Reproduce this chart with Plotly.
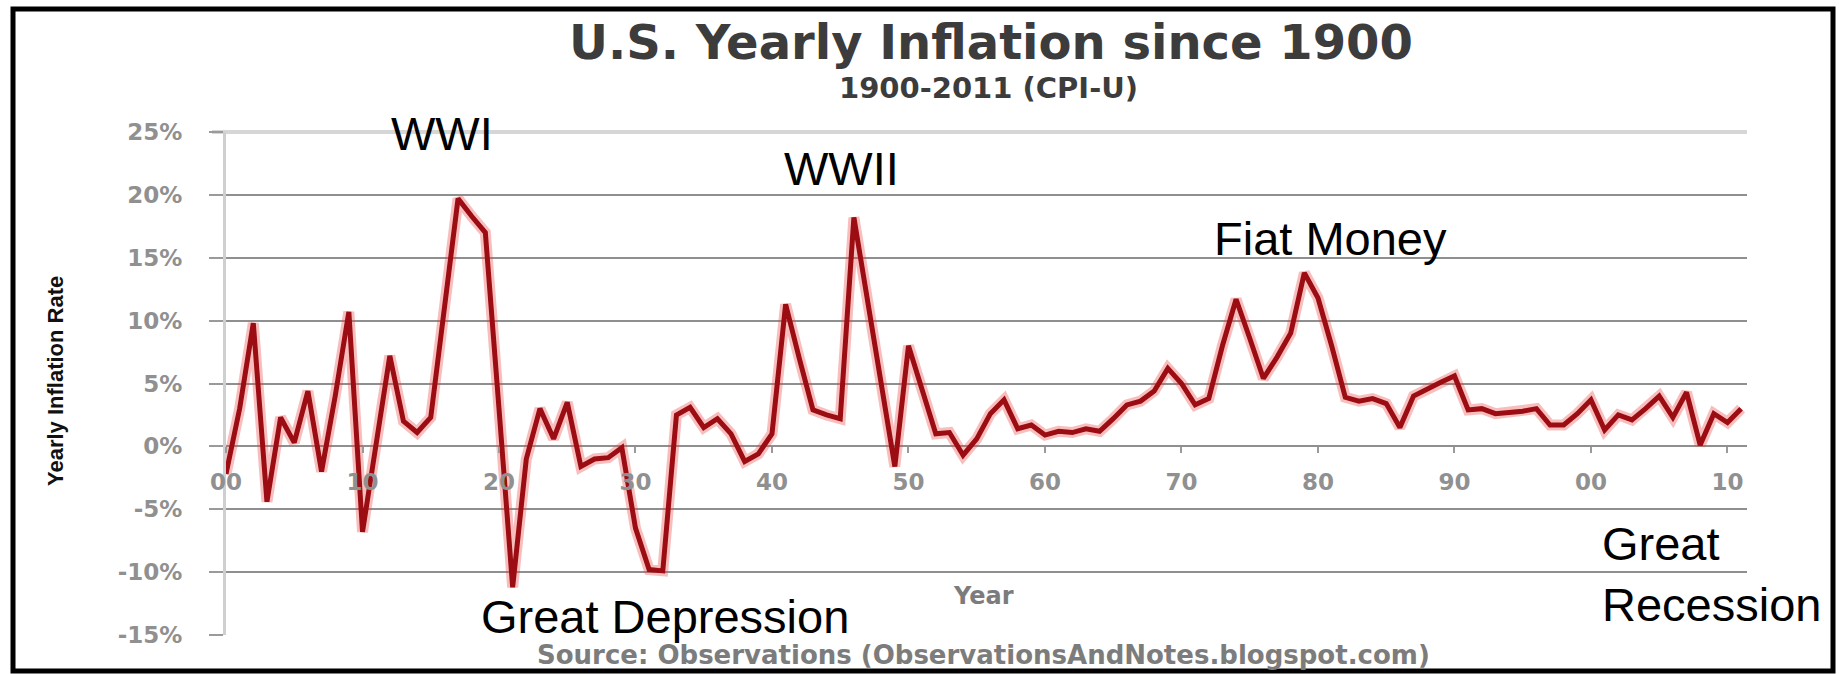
import plotly.graph_objects as go

# Yearly CPI-U inflation, percent
years = list(range(1900, 2012))
inflation = [
    -2.2, 3.0, 9.8, -4.4, 2.3, 0.3, 4.4, -2.0, 4.0, 10.7,      # 1900s
    -6.8, 0.0, 7.2, 2.0, 1.1, 2.3, 11.0, 19.7, 18.3, 17.0,     # 1910s
    3.0, -11.2, -1.0, 3.0, 0.6, 3.5, -1.6, -1.0, -0.9, -0.1,   # 1920s
    -6.5, -9.8, -9.9, 2.5, 3.1, 1.5, 2.2, 1.0, -1.2, -0.6,     # 1930s
    1.0, 11.3, 7.0, 2.9, 2.5, 2.2, 18.2, 11.6, 5.0, -1.6,      # 1940s
    8.0, 4.5, 1.0, 1.1, -0.7, 0.6, 2.6, 3.7, 1.4, 1.7,         # 1950s
    0.9, 1.2, 1.1, 1.4, 1.2, 2.2, 3.3, 3.6, 4.4, 6.2,          # 1960s
    5.0, 3.3, 3.8, 8.0, 11.7, 8.6, 5.4, 7.1, 9.0, 13.8,        # 1970s
    11.8, 8.0, 3.9, 3.6, 3.8, 3.4, 1.5, 4.0, 4.6, 5.1,         # 1980s
    5.6, 2.9, 3.0, 2.6, 2.7, 2.8, 3.0, 1.7, 1.7, 2.6,          # 1990s
    3.7, 1.3, 2.5, 2.1, 3.0, 4.0, 2.3, 4.3, 0.1, 2.6,          # 2000s
    1.9, 3.0,                                                  # 2010s
]

y_ticks = [-15, -10, -5, 0, 5, 10, 15, 20, 25]
y_tick_text = ["-15%", "-10%", "-5%", "0%", "5%", "10%", "15%", "20%", "25%"]
x_ticks = [1900, 1910, 1920, 1930, 1940, 1950, 1960, 1970, 1980, 1990, 2000, 2010]
x_tick_text = ["00", "10", "20", "30", "40", "50", "60", "70", "80", "90", "00", "10"]

events = ["WWI", "WWII", "Fiat Money", "Great Depression", "Great<br>Recession"]

# page and plot-area geometry (pixels)
W, H = 1839, 674
L, R, T, B = 226, 1747, 132, 635


def px(x):
    return (x - L) / (R - L)


def py(y):
    return (B - y) / (B - T)


fig = go.Figure()

# soft red glow under the series line
fig.add_trace(go.Scatter(
    x=years, y=inflation, mode="lines",
    line=dict(color="rgba(235,70,70,0.35)", width=11),
    hoverinfo="skip", showlegend=False,
))
fig.add_trace(go.Scatter(
    x=years, y=inflation, mode="lines",
    line=dict(color="#9b0d12", width=5),
    name="Inflation", showlegend=False,
))

tick_font = dict(family="DejaVu Sans", size=23, color="#909090", weight="bold")

fig.update_layout(
    width=W, height=H, autosize=False,
    margin=dict(l=L, r=W - R, t=T, b=H - B),
    paper_bgcolor="white", plot_bgcolor="white",
    xaxis=dict(
        range=[1900, 2011.43],
        anchor="free", position=15 / 40,
        tickmode="array", tickvals=x_ticks, ticktext=x_tick_text,
        ticks="outside", ticklen=6, tickwidth=1.5, tickcolor="#9a9a9a",
        tickfont=tick_font, ticklabelstandoff=9,
        showgrid=False, zeroline=False, showline=False,
    ),
    yaxis=dict(
        range=[-15, 25],
        tickmode="array", tickvals=y_ticks, ticktext=y_tick_text,
        ticks="outside", ticklen=14, tickwidth=1.5, tickcolor="#9a9a9a",
        tickfont=tick_font, ticklabelstandoff=22,
        showgrid=True, gridcolor="#8f8f8f", gridwidth=1.6,
        zeroline=False,
        showline=True, linecolor="#cfcfcf", linewidth=3,
    ),
)

shapes = [
    # light band along the top edge of the plot area
    dict(type="line", xref="paper", yref="paper", x0=px(212), x1=1, y0=1, y1=1,
         line=dict(color="#d6d6d6", width=4), layer="below"),
    # black frame around the whole chart
    dict(type="rect", xref="paper", yref="paper",
         x0=px(13), x1=px(1833), y0=py(671), y1=py(9),
         line=dict(color="black", width=5), fillcolor="rgba(0,0,0,0)"),
]
fig.update_layout(shapes=shapes)

label_font = dict(family="Liberation Sans", size=47, color="black")
gray_bold = dict(family="DejaVu Sans", color="#7c7c7c", weight="bold")

annotations = [
    dict(text="U.S. Yearly Inflation since 1900", x=px(991), y=py(42),
         font=dict(family="DejaVu Sans", size=48, color="#3c3c3c", weight="bold")),
    dict(text="1900-2011 (CPI-U)", x=px(988), y=py(88),
         font=dict(family="DejaVu Sans", size=29, color="#3c3c3c", weight="bold")),
    dict(text="Yearly Inflation Rate", x=px(55), y=py(381), textangle=-90,
         font=dict(family="Liberation Sans", size=22, color="#111111", weight="bold")),
    dict(text="Year", x=px(983), y=py(596), font=dict(size=24, **gray_bold)),
    dict(text="Source: Observations (ObservationsAndNotes.blogspot.com)",
         x=px(983), y=py(655), font=dict(size=26, **gray_bold)),
    dict(text=events[0], x=px(442), y=py(133), font=label_font),
    dict(text=events[1], x=px(841), y=py(168), font=label_font),
    dict(text=events[2], x=px(1330), y=py(238), font=label_font),
    dict(text=events[3], x=px(665), y=py(616), font=label_font),
    dict(text=events[4], x=px(1600), y=py(574), xanchor="left", align="left",
         font=label_font),
]
for a in annotations:
    a.setdefault("xanchor", "center")
    a.setdefault("yanchor", "middle")
    a.update(xref="paper", yref="paper", showarrow=False)
fig.update_layout(annotations=annotations)

fig.write_html("out.html")
